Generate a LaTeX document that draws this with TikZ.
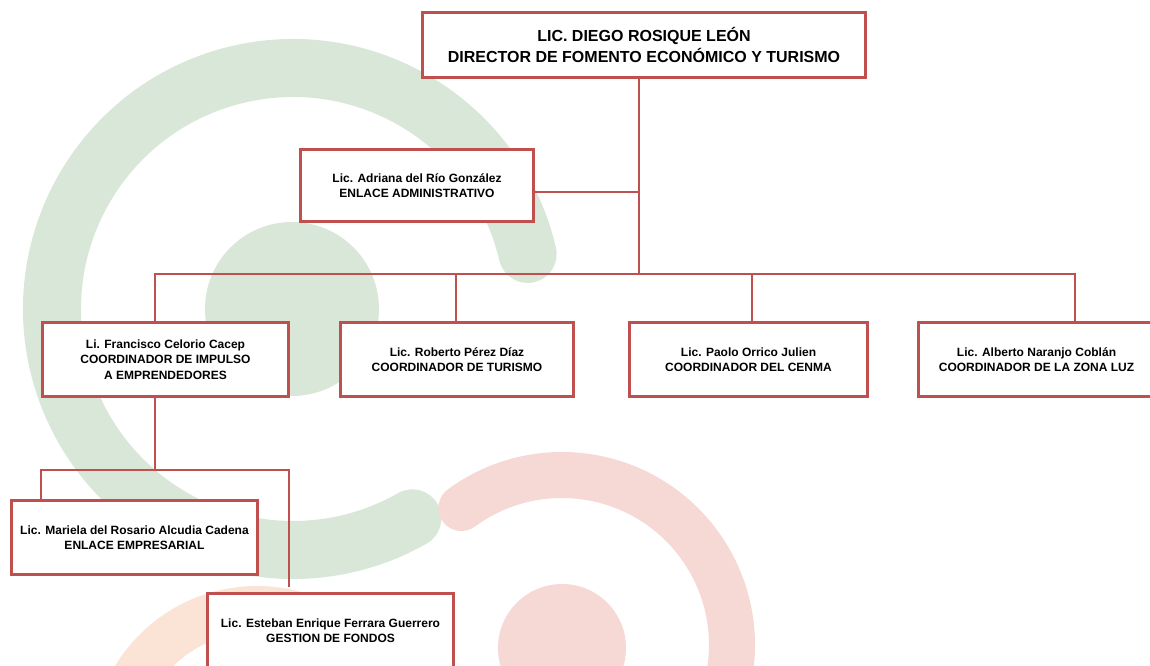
\documentclass[tikz,border=0pt]{standalone}
\usepackage{fontspec}
\setmainfont{Liberation Sans}
\definecolor{boxred}{RGB}{192,80,77}
\definecolor{ringgreen}{RGB}{217,231,216}
\definecolor{ringpink}{RGB}{246,217,212}
\definecolor{ringpeach}{RGB}{251,228,214}
\tikzset{
  box/.style={draw=boxred, line width=3.2pt, fill=white, align=center, inner sep=0pt,
    minimum width=245.8pt, minimum height=73.8pt, font=\bfseries\fontsize{12}{15.5}\selectfont},
  topbox/.style={box, font=\bfseries\fontsize{16}{21}\selectfont},
  wire/.style={draw=boxred, line width=2pt},
}
\begin{document}
\begin{tikzpicture}[scale=1.000000,x=1pt,y=1pt]
\useasboundingbox (0.000000,0.000000) rectangle (1150.000000,665.000000);
\fill[color=white] (0.000000,0.000000) rectangle (1150.000000,665.000000);
% Drawing background rings
% Ring 1: green, open ring and disk
\draw[color=ringgreen, line width=58pt, line cap=round] (293.000000,356.000000) ++(13.200000:241.000000) arc[start angle=13.2, end angle=299.7, radius=241];
\fill[color=ringgreen] (292.000000,356.000000) circle(87.000000);
% Ring 2: pink, open ring and disk
\draw[color=ringpink, line width=46pt, line cap=round] (562.000000,20.000000) ++(126.300000:170.000000) arc[start angle=126.3, end angle=-30, radius=170];
\fill[color=ringpink] (562.000000,17.000000) circle(64.000000);
% Ring 3: peach, mostly under the last box
\draw[color=ringpeach, line width=46pt, line cap=round] (257.000000,-87.000000) ++(185.000000:143.000000) arc[start angle=185, end angle=60, radius=143];
% Done with rings; drawing boxes
% Box 1: dir
\node[topbox, minimum width=442.8pt, minimum height=64.8pt] (dir) at (644.000000,620.000000) {LIC. DIEGO ROSIQUE LEÓN\\DIRECTOR DE FOMENTO ECONÓMICO Y TURISMO};
% Box 2: adr
\node[box, minimum width=232.8pt, minimum height=71.8pt] (adr) at (417.000000,479.500000) {Lic. Adriana del Río González\\ENLACE ADMINISTRATIVO};
% Box 3: fran
\node[box] (fran) at (165.500000,305.500000) {Li. Francisco Celorio Cacep\\COORDINADOR DE IMPULSO\\A EMPRENDEDORES};
% Box 4: rob
\node[box, minimum width=232.8pt] (rob) at (457.000000,305.500000) {Lic. Roberto Pérez Díaz\\COORDINADOR DE TURISMO};
% Box 5: pao
\node[box, minimum width=237.8pt] (pao) at (748.500000,305.500000) {Lic. Paolo Orrico Julien\\COORDINADOR DEL CENMA};
% Box 6: alb
\node[box, minimum width=235.8pt] (alb) at (1036.500000,305.500000) {Lic. Alberto Naranjo Coblán\\COORDINADOR DE LA ZONA LUZ};
% Box 7: mar
\node[box] (mar) at (134.500000,127.500000) {Lic. Mariela del Rosario Alcudia Cadena\\ENLACE EMPRESARIAL};
% Box 8: est
\node[box] (est) at (330.500000,34.500000) {Lic. Esteban Enrique Ferrara Guerrero\\GESTION DE FONDOS};
% Done with boxes; drawing wires
\coordinate (trunk) at (639.000000,391.000000);
\coordinate (jadr) at (639.000000,473.000000);
\coordinate (bfran) at (155.000000,391.000000);
\coordinate (brob) at (456.000000,391.000000);
\coordinate (bpao) at (752.000000,391.000000);
\coordinate (balb) at (1075.000000,391.000000);
\coordinate (sfran) at (155.000000,195.000000);
\coordinate (smar) at (41.000000,195.000000);
\coordinate (sest) at (289.000000,195.000000);
\coordinate (eest) at (289.000000,78.000000);
% Wire 1: dir down to the bus
\draw[wire] (dir.south -| trunk) -- (trunk);
% Wire 2: adr to the trunk
\draw[wire] (adr.east |- jadr) -- (jadr);
% Wire 3: bus over fran rob pao alb
\draw[wire] (fran.north -| bfran) -- (bfran) -- (balb) -- (balb |- alb.north);
\draw[wire] (brob) -- (brob |- rob.north);
\draw[wire] (bpao) -- (bpao |- pao.north);
% Wire 4: fran down to mar and est
\draw[wire] (fran.south -| sfran) -- (sfran);
\draw[wire] (mar.north -| smar) -- (smar) -- (sest) -- (eest);
% Done with wires
\end{tikzpicture}
\end{document}
